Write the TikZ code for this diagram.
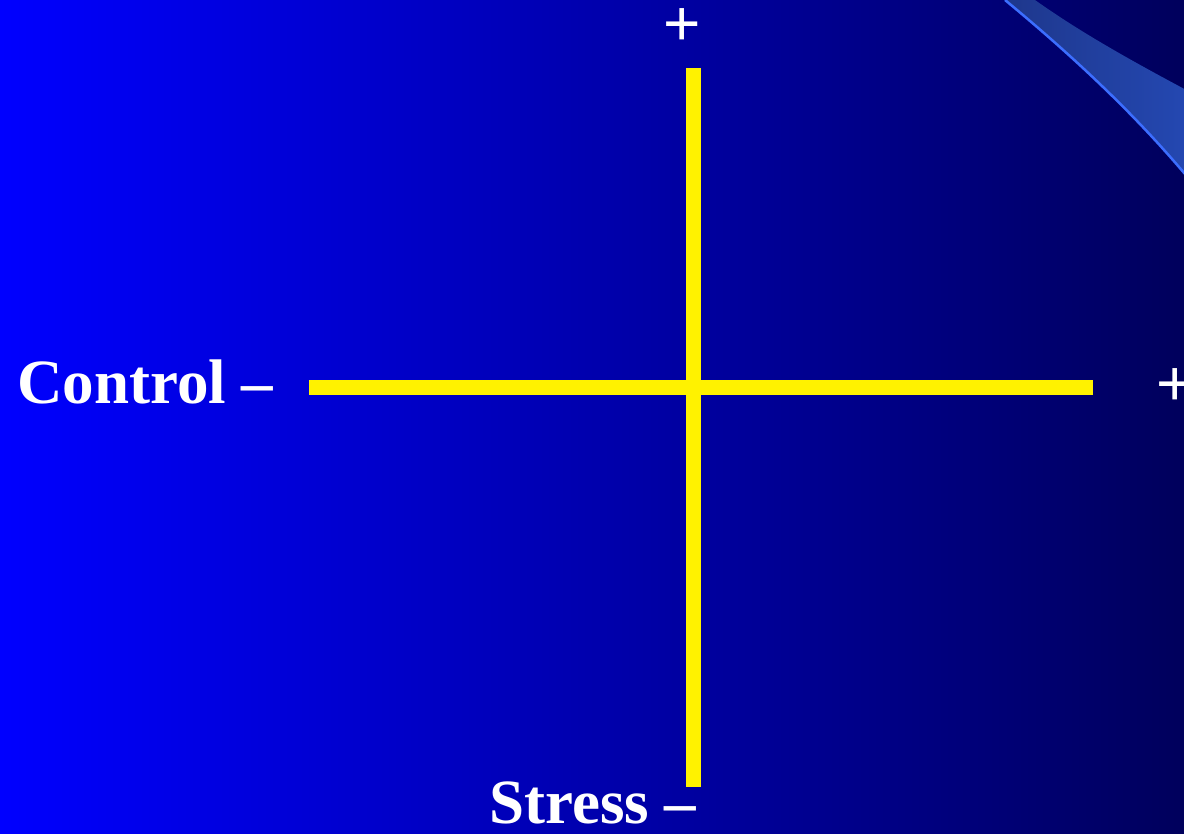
\documentclass[tikz,border=0pt]{standalone}
\usepackage{fontspec}
\setmainfont{Liberation Serif}
\newfontfamily\plusfont{Liberation Sans}
\begin{document}
\begin{tikzpicture}[x=1pt,y=-1pt,
  axis/.style={draw=yellow, line width=15pt},
  lbl/.style={text=white, font=\fontsize{63}{63}\selectfont\bfseries, inner sep=0pt},
  plus/.style={text=white, font=\plusfont\fontsize{64}{64}\selectfont, inner sep=0pt}]
\useasboundingbox (0,0) rectangle (1184,834);
\shade[left color={rgb,255:red,0;green,0;blue,255}, right color={rgb,255:red,0;green,0;blue,92}] (0,0) rectangle (1184,834);
% swoosh
\begin{scope}
\clip (0,0) rectangle (1184,834);
\shade[left color={rgb,255:red,30;green,55;blue,140}, right color={rgb,255:red,36;green,72;blue,178}]
  (1005,0) .. controls (1080,62) and (1140,120) .. (1190,180) -- (1190,92) .. controls (1130,60) and (1080,32) .. (1035,0) -- cycle;
\draw[draw={rgb,255:red,60;green,110;blue,255}, line width=2.5pt] (1005,0) .. controls (1080,62) and (1140,120) .. (1190,180);
\end{scope}
% axes
\coordinate (left) at (309,387.5);
\coordinate (right) at (1093,387.5);
\coordinate (top) at (693,68);
\coordinate (bottom) at (693,787);
\draw[axis] (left) -- (right);
\draw[axis] (top) -- (bottom);
% labels
\node[lbl, anchor=base west] (ctrl) at (17,403) {Control –};
\node[lbl, anchor=base west] (stress) at (489,823) {Stress –};
\node[plus] (ptop) at (682,27) {+};
\node[plus] (pright) at (1175,387) {+};
\end{tikzpicture}
\end{document}
